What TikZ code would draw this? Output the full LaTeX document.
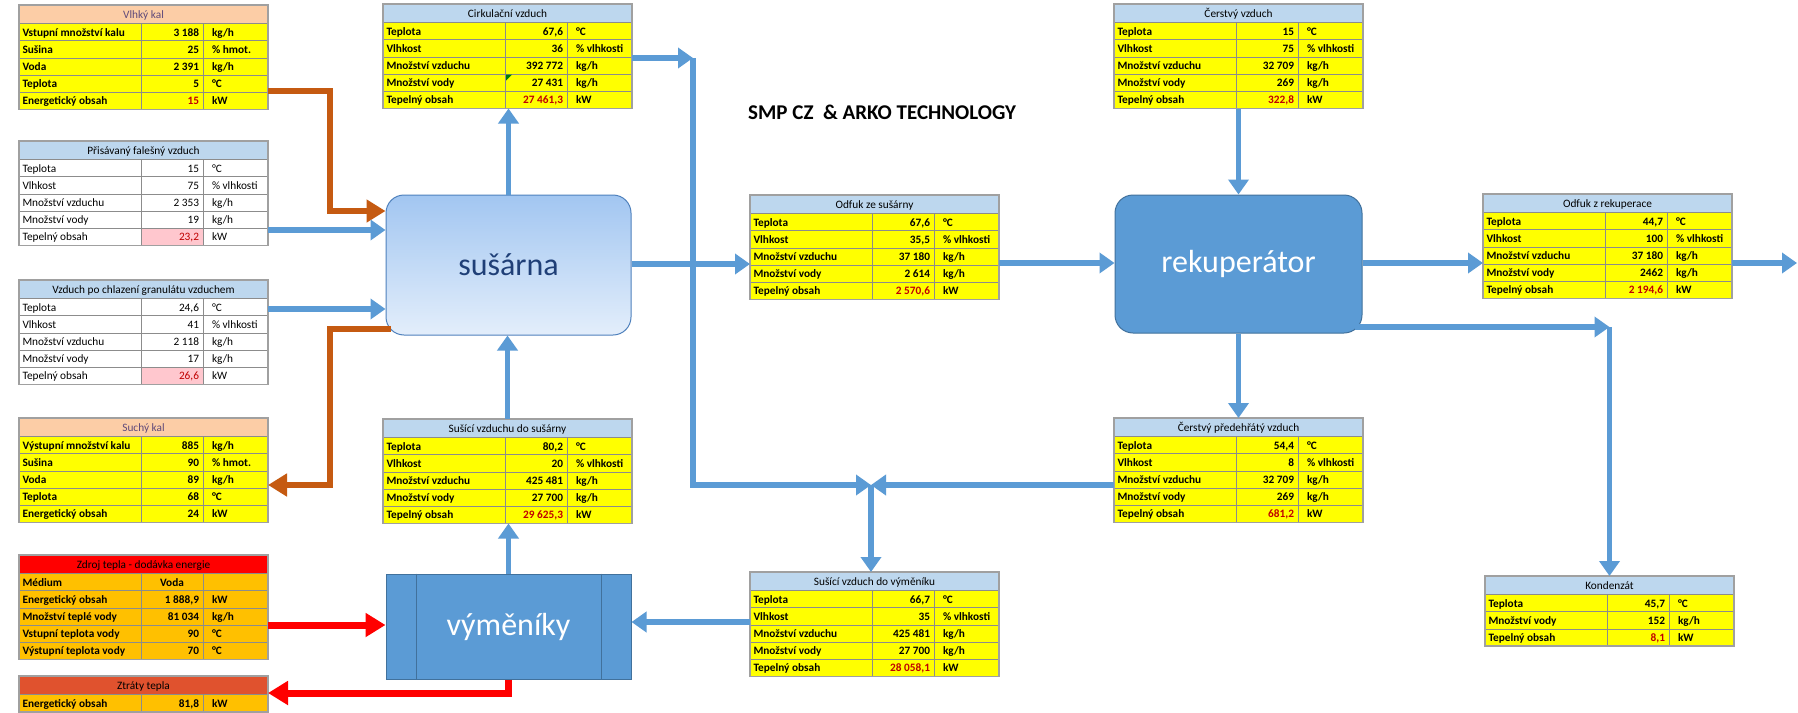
\documentclass[tikz,border=0pt]{standalone}
\usepackage{fontspec}
\setmainfont{Carlito}
\usetikzlibrary{arrows.meta,calc}
\definecolor{gridgray}{HTML}{8C8C8C}
\definecolor{framegray}{HTML}{A0A0A0}
\definecolor{hblue}{HTML}{BDD7EE}
\definecolor{hpeach}{HTML}{FCCDA6}
\definecolor{hpurple}{HTML}{5F497A}
\definecolor{rowyel}{HTML}{FFFF00}
\definecolor{roworange}{HTML}{FFC000}
\definecolor{hred}{HTML}{FF0000}
\definecolor{hztr}{HTML}{E0522E}
\definecolor{valred}{HTML}{C00000}
\definecolor{pinkc}{HTML}{FFC7CE}
\definecolor{arrblue}{HTML}{5B9BD5}
\definecolor{arrorange}{HTML}{C55A11}
\definecolor{arrred}{HTML}{FF0000}
\definecolor{susTop}{HTML}{A2C6F1}
\definecolor{susBot}{HTML}{E3EEFB}
\definecolor{susborder}{HTML}{4F81BD}
\definecolor{susText}{HTML}{1F3F77}
\definecolor{recblue}{HTML}{5B9BD5}
\definecolor{recborder}{HTML}{41719C}
\newcommand\tf{\fontsize{11.3}{13}\selectfont}
\def\tfw{}\def\thf{hblue}\def\thc{black}\def\trf{white}
% #1 name, #2 x0, #3 y0, #4 rows, #5 title, #6 rows list
\newcommand\tbl[6]{%
  \pgfmathsetmacro\tbh{18.5+#4*17.2}%
  \fill[\thf] (#2,#3) rectangle ++(249,18.5);
  \node[font=\tf, text=\thc, anchor=base, inner sep=0pt] (#1-h) at (#2+124.5,#3+18.5-5) {#5};
  \foreach \lab/\val/\uni/\vs [count=\i from 0] in {#6}{%
    \pgfmathsetmacro\ya{#3+18.5+\i*17.2}%
    \pgfmathsetmacro\yb{\ya+17.2}%
    \fill[\trf] (#2,\ya) rectangle (#2+249,\yb);
    \ifnum\vs=2 \fill[pinkc] (#2+122,\ya) rectangle (#2+184,\yb);\fi
    \draw[grid] (#2,\ya) -- (#2+249,\ya) (#2+122,\ya) -- (#2+122,\yb) (#2+184,\ya) -- (#2+184,\yb);
    \def\vc{black}\ifnum\vs=1 \def\vc{valred}\fi\ifnum\vs=2 \def\vc{valred}\fi
    \node[cell, anchor=base west] (#1-l\i) at (#2+3.5,\yb-4.6) {\lab};
    \ifnum\vs=3
      \node[cell, anchor=base] (#1-v\i) at (#2+153,\yb-4.6) {\val};
    \else
      \node[cell, anchor=base east, text=\vc] (#1-v\i) at (#2+180,\yb-4.6) {\val};
    \fi
    \node[cell, anchor=base west] (#1-u\i) at (#2+193,\yb-4.6) {\uni};
  }
  \node[tframe, minimum width=249pt, minimum height=\tbh pt, anchor=north west] (#1) at (#2,#3) {};
}
\begin{document}
\begin{tikzpicture}[x=1pt,y=-1pt,
  grid/.style={draw=gridgray, line width=0.8pt},
  cell/.style={font=\tf\tfw, inner sep=0pt, outer sep=0pt},
  tframe/.style={draw=framegray, line width=1.6pt, inner sep=0pt, outer sep=0pt, rectangle},
  barrow/.style={draw=arrblue, line width=5.5pt, -{Triangle[width=20pt,length=15pt]}},
  bline/.style={draw=arrblue, line width=5.5pt},
  oarrow/.style={draw=arrorange, line width=6.5pt, -{Triangle[width=22pt,length=19pt]}},
  rarrow/.style={draw=arrred, line width=7pt, -{Triangle[width=23pt,length=20pt]}},
  kal/.code={\def\thf{hpeach}\def\thc{hpurple}\def\trf{rowyel}\def\tfw{\bfseries}},
  yel/.code={\def\thf{hblue}\def\thc{black}\def\trf{rowyel}\def\tfw{\bfseries}},
  wht/.code={\def\thf{hblue}\def\thc{black}\def\trf{white}\def\tfw{}},
  zdr/.code={\def\thf{hred}\def\thc{black}\def\trf{roworange}\def\tfw{\bfseries}},
  ztr/.code={\def\thf{hztr}\def\thc{black}\def\trf{roworange}\def\tfw{\bfseries}},
  bigbox/.style={minimum width=245pt, inner sep=0pt, font=\fontsize{32}{38}\selectfont},
]
\fill[white] (0,0) rectangle (1798,712);
\useasboundingbox (0,0) rectangle (1798,712);

% ---- tables ----
\begin{scope}[kal]
\tbl{vk}{19}{5}{5}{Vlhký kal}{Vstupní množství kalu/3 188/{kg/h}/0, Sušina/25/{\% hmot.}/0, Voda/2 391/{kg/h}/0, Teplota/5/°C/0, Energetický obsah/15/kW/1}
\tbl{sk}{19}{418}{5}{Suchý kal}{Výstupní množství kalu/885/{kg/h}/0, Sušina/90/{\% hmot.}/0, Voda/89/{kg/h}/0, Teplota/68/°C/0, Energetický obsah/24/kW/0}
\end{scope}
\begin{scope}[wht]
\tbl{pf}{19}{141}{5}{Přisávaný falešný vzduch}{Teplota/15/°C/0, Vlhkost/75/{\% vlhkosti}/0, Množství vzduchu/2 353/{kg/h}/0, Množství vody/19/{kg/h}/0, Tepelný obsah/{23,2}/kW/2}
\tbl{vpc}{19}{280}{5}{Vzduch po chlazení granulátu vzduchem}{Teplota/{24,6}/°C/0, Vlhkost/41/{\% vlhkosti}/0, Množství vzduchu/2 118/{kg/h}/0, Množství vody/17/{kg/h}/0, Tepelný obsah/{26,6}/kW/2}
\end{scope}
\begin{scope}[zdr]
\tbl{zt}{19}{555}{5}{Zdroj tepla - dodávka energie}{Médium/Voda/{}/3, Energetický obsah/{1 888,9}/kW/0, Množství teplé vody/81 034/{kg/h}/0, Vstupní teplota vody/90/°C/0, Výstupní teplota vody/70/°C/0}
\end{scope}
\begin{scope}[ztr]
\tbl{zr}{19}{676}{1}{Ztráty tepla}{Energetický obsah/{81,8}/kW/0}
\end{scope}
\begin{scope}[yel]
\tbl{cv}{383}{4}{5}{Cirkulační vzduch}{Teplota/{67,6}/°C/0, Vlhkost/36/{\% vlhkosti}/0, Množství vzduchu/392 772/{kg/h}/0, Množství vody/27 431/{kg/h}/0, Tepelný obsah/{27 461,3}/kW/1}
\tbl{sds}{383}{419}{5}{Sušící vzduchu do sušárny}{Teplota/{80,2}/°C/0, Vlhkost/20/{\% vlhkosti}/0, Množství vzduchu/425 481/{kg/h}/0, Množství vody/27 700/{kg/h}/0, Tepelný obsah/{29 625,3}/kW/1}
\tbl{ofs}{750}{195}{5}{Odfuk ze sušárny}{Teplota/{67,6}/°C/0, Vlhkost/{35,5}/{\% vlhkosti}/0, Množství vzduchu/37 180/{kg/h}/0, Množství vody/2 614/{kg/h}/0, Tepelný obsah/{2 570,6}/kW/1}
\tbl{sdv}{750}{572}{5}{Sušící vzduch do výměníku}{Teplota/{66,7}/°C/0, Vlhkost/35/{\% vlhkosti}/0, Množství vzduchu/425 481/{kg/h}/0, Množství vody/27 700/{kg/h}/0, Tepelný obsah/{28 058,1}/kW/1}
\tbl{cz}{1114}{4}{5}{Čerstvý vzduch}{Teplota/15/°C/0, Vlhkost/75/{\% vlhkosti}/0, Množství vzduchu/32 709/{kg/h}/0, Množství vody/269/{kg/h}/0, Tepelný obsah/{322,8}/kW/1}
\tbl{cpv}{1114}{418}{5}{Čerstvý předehřátý vzduch}{Teplota/{54,4}/°C/0, Vlhkost/8/{\% vlhkosti}/0, Množství vzduchu/32 709/{kg/h}/0, Množství vody/269/{kg/h}/0, Tepelný obsah/{681,2}/kW/1}
\tbl{ofr}{1483}{194}{5}{Odfuk z rekuperace}{Teplota/{44,7}/°C/0, Vlhkost/100/{\% vlhkosti}/0, Množství vzduchu/37 180/{kg/h}/0, Množství vody/2462/{kg/h}/0, Tepelný obsah/{2 194,6}/kW/1}
\tbl{kon}{1485}{576}{3}{Kondenzát}{Teplota/{45,7}/°C/0, Množství vody/152/{kg/h}/0, Tepelný obsah/{8,1}/kW/1}
\end{scope}
% comment marker
\fill[green!50!black] (506,74.5) -- (512,74.5) -- (506,80.5) -- cycle;

% ---- main boxes ----
\node[bigbox, draw=susborder, line width=1pt, rounded corners=18pt, top color=susTop, bottom color=susBot, minimum height=140pt, text=susText] (sus) at (508.5,265) {sušárna};
\node[bigbox, minimum width=247pt, draw=recborder, line width=1pt, rounded corners=18pt, fill=recblue, minimum height=138pt, text=white] (rek) at (1238.5,264) {rekuperátor};
\node[bigbox, draw=recborder, line width=1pt, fill=recblue, minimum height=105pt, text=white] (vym) at (508.5,626.5) {výměníky};
\draw[recborder, line width=1pt] ([xshift=31pt]vym.north west) -- ([xshift=31pt]vym.south west);
\draw[recborder, line width=1pt] ([xshift=-30pt]vym.north east) -- ([xshift=-30pt]vym.south east);

\node[font=\bfseries\fontsize{21}{25}\selectfont, anchor=west, inner sep=0pt] (title) at (748,112) {SMP CZ\ \ \& ARKO TECHNOLOGY};

% ---- coordinates ----
\coordinate (k1) at (693,58);
\coordinate (J) at (871,485);
\coordinate (k3) at (kon.north |- 0,327);
\coordinate (out) at (1797,263);

% ---- connectors ----
\draw[oarrow] (vk.east |- 0,91) -- (330,91) -- (330,211) -- (sus.west |- 0,211);
\draw[barrow] (pf.east |- 0,230) -- (sus.west |- 0,230);
\draw[barrow] (vpc.east |- 0,309) -- (sus.west |- 0,309);
\draw[oarrow] (391,329) -- (330,329) -- (330,485) -- (sk.east |- 0,485);
\draw[barrow] (sus.north) -- (sus.north |- cv.south);
\draw[barrow] (sds.north) -- (sds.north |- sus.south);
\draw[barrow] (vym.north) -- (vym.north |- sds.south);
\draw[rarrow] (zt.east |- 0,625) -- (vym.west |- 0,625);
\draw[rarrow] (vym.south) -- (vym.south |- 0,693) -- (zr.east |- 0,693);

\draw[barrow] (cv.east |- k1) -- (k1);
\draw[barrow] (k1) -- (k1 |- J) -- (J);
\draw[barrow] (sus.east |- 0,264) -- (ofs.west |- 0,264);
\draw[barrow] (ofs.east |- 0,263) -- (rek.west |- 0,263);
\draw[barrow] (cz.south) -- (cz.south |- rek.north);
\draw[barrow] (rek.east |- 0,263) -- (ofr.west |- 0,263);
\draw[barrow] (ofr.east |- out) -- (out);
\draw[barrow] (rek.south) -- (rek.south |- cpv.north);
\draw[barrow] (1355,327) -- (k3);
\draw[barrow] (k3) -- (kon.north);
\draw[barrow] (cpv.west |- J) -- (J);
\draw[barrow] (J) -- (J |- sdv.north);
\draw[barrow] (sdv.west |- 0,622) -- (vym.east |- 0,622);
\end{tikzpicture}
\end{document}
